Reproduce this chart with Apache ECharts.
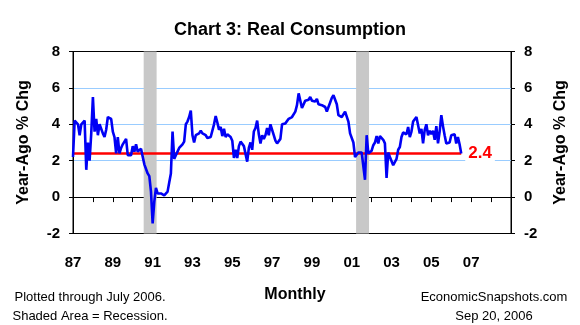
<!DOCTYPE html>
<html><head><meta charset="utf-8">
<script src="https://cdn.jsdelivr.net/npm/echarts@6/dist/echarts.min.js"></script>
<style>html,body{margin:0;padding:0;background:#fff}#c{width:580px;height:325px}</style>
</head><body><div id="c"></div>
<script>
// Year-ago % change in real consumption, monthly, Jan 1987 - Jul 2006
const v1987 = [2.2, 4.2, 4.1, 4.0, 3.4, 4.0, 4.1, 4.2, 1.5, 3.0, 2.0, 3.5];
const v1988 = [5.5, 3.6, 4.3, 3.4, 4.0, 4.0, 3.5, 3.3, 3.7, 4.4, 4.5, 4.3];
const v1989 = [3.6, 3.3, 2.4, 3.3, 2.4, 2.7, 2.9, 3.05, 3.2, 2.3, 2.2, 2.3];
const v1990 = [2.8, 2.5, 2.9, 2.5, 2.5, 2.65, 2.6, 1.8, 1.85, 1.3, 1.15, 0.3];
const v1991 = [-1.45, -0.25, 0.5, 0.2, 0.3, 0.2, 0.25, 0.1, 0.1, 0.3, 0.8, 1.3];
const v1992 = [3.6, 2.1, 2.3, 2.5, 2.7, 2.8, 2.9, 3.05, 4.0, 4.15, 4.4, 4.75];
const v1993 = [3.4, 3.0, 3.4, 3.4, 3.5, 3.65, 3.5, 3.45, 3.4, 3.25, 3.15, 3.3];
const v1994 = [3.35, 4.0, 4.45, 4.1, 3.7, 3.85, 3.35, 3.75, 3.3, 3.45, 3.55, 3.3];
const v1995 = [3.1, 2.15, 2.6, 2.15, 2.8, 3.05, 2.95, 2.8, 2.9, 1.95, 2.7, 3.0];
const v1996 = [2.6, 3.6, 3.8, 4.2, 3.45, 2.95, 3.4, 3.2, 3.4, 3.8, 3.4, 4.0];
const v1997 = [4.0, 3.4, 3.1, 2.95, 2.95, 3.2, 4.0, 4.1, 4.05, 4.15, 4.3, 4.2];
const v1998 = [4.4, 4.5, 4.7, 5.05, 5.7, 5.8, 4.9, 4.85, 5.3, 5.3, 5.35, 5.5];
const v1999 = [5.3, 5.25, 5.25, 5.4, 5.1, 5.15, 5.05, 5.1, 4.95, 4.7, 4.8, 5.2];
const v2000 = [5.45, 5.6, 5.65, 5.1, 4.5, 4.4, 4.4, 4.45, 4.7, 4.6, 4.15, 3.5];
const v2001 = [3.5, 3.0, 2.2, 2.3, 2.45, 2.5, 2.45, 2.4, 0.95, 3.4, 2.4, 2.4];
const v2002 = [2.55, 2.85, 3.0, 3.35, 2.95, 3.35, 3.25, 3.15, 2.95, 1.05, 2.45, 2.2];
const v2003 = [2.1, 1.75, 1.85, 2.1, 2.6, 2.75, 3.3, 3.55, 3.55, 3.45, 3.85, 3.3];
const v2004 = [3.6, 4.15, 4.2, 4.4, 4.5, 3.5, 3.75, 2.95, 3.7, 4.0, 3.4, 3.65];
const v2005 = [3.45, 3.65, 3.15, 3.9, 2.95, 3.6, 4.5, 3.9, 3.4, 2.95, 2.9, 3.0];
const v2006 = [3.4, 3.45, 3.45, 2.95, 3.3, 2.9, 2.4];

const years = [1987,1988,1989,1990,1991,1992,1993,1994,1995,1996,1997,1998,1999,2000,2001,2002,2003,2004,2005,2006];
const yearValues = [v1987,v1988,v1989,v1990,v1991,v1992,v1993,v1994,v1995,v1996,v1997,v1998,v1999,v2000,v2001,v2002,v2003,v2004,v2005,v2006];

// recessions (decimal years)
const recessionStart = [1990.55, 2001.22];
const recessionEnd = [1991.2, 2001.87];

const latestValue = 2.4;
const xTickLabels = ['87','89','91','93','95','97','99','01','03','05','07'];
const xMin = 1987, xMax = 2009;
const yMin = -2, yMax = 8, yStep = 2;

const data = [];
years.forEach((yr, k) => yearValues[k].forEach((v, i) => data.push([yr + i / 12, v])));
const lastT = data[data.length - 1][0];

const FONT = '"Liberation Sans", Arial, sans-serif';
const chart = echarts.init(document.getElementById('c'), null, {renderer: 'canvas'});

const yAxisCommon = {
  type: 'value', min: yMin, max: yMax, interval: yStep,
  axisLine: {show: true, lineStyle: {color: '#000', width: 1}},
  axisTick: {show: true, inside: false, length: 4, lineStyle: {color: '#000'}},
  axisLabel: {color: '#000', fontFamily: FONT, fontWeight: 'bold', fontSize: 15, margin: 13},
  name: 'Year-Ago % Chg', nameLocation: 'middle', nameRotate: 90,
  nameTextStyle: {color: '#000', fontFamily: FONT, fontWeight: 'bold', fontSize: 16}
};

chart.setOption({
  animation: false,
  backgroundColor: '#fff',
  title: {
    text: 'Chart 3: Real Consumption', left: 'center', top: 16,
    textStyle: {color: '#000', fontFamily: FONT, fontWeight: 'bold', fontSize: 18}
  },
  grid: {left: 73, right: 69, top: 51.5, bottom: 91.5, show: true, borderColor: '#000', borderWidth: 1, backgroundColor: 'transparent'},
  xAxis: {
    type: 'value', min: xMin, max: xMax, interval: 1,
    axisLine: {onZero: true, lineStyle: {color: '#000', width: 1}},
    axisTick: {show: true, inside: false, length: 5, lineStyle: {color: '#000'}},
    splitLine: {show: false},
    axisLabel: {
      color: '#000', fontFamily: FONT, fontWeight: 'bold', fontSize: 15, margin: 22,
      formatter: v => { const k = Math.round(v - xMin); return k % 2 === 0 ? (xTickLabels[k / 2] || '') : ''; }
    }
  },
  yAxis: [
    Object.assign({}, yAxisCommon, {
      position: 'left', nameGap: 41,
      splitLine: {show: true, showMinLine: false, showMaxLine: false,
        lineStyle: {color: ['rgba(0,0,0,0)', '#99ccff', '#99ccff', '#99ccff'], width: 1}}
    }),
    Object.assign({}, yAxisCommon, {position: 'right', nameGap: 42, splitLine: {show: false}})
  ],
  series: [{
    type: 'line', data: data, showSymbol: false, symbol: 'none',
    lineStyle: {color: '#0000f5', width: 2.6}, z: 5,
    markArea: {
      silent: true,
      itemStyle: {color: '#c8c8c8', opacity: 1},
      data: recessionStart.map((s, i) => [{xAxis: s}, {xAxis: recessionEnd[i]}])
    },
    markLine: {
      silent: true, symbol: 'none',
      lineStyle: {color: '#ff0000', width: 2.5, type: 'solid'},
      label: {
        show: true, position: 'end', formatter: String(latestValue), distance: 4,
        color: '#ff0000', fontFamily: FONT, fontWeight: 'bold', fontSize: 17,
        backgroundColor: '#fff', padding: [1, 3, 0, 3]
      },
      data: [[{coord: [xMin, latestValue]}, {coord: [lastT, latestValue]}]]
    }
  }],
  graphic: [
    {type: 'text', x: 295, y: 295, style: {text: 'Monthly', fill: '#000', font: 'bold 16px ' + FONT, align: 'center', verticalAlign: 'middle'}},
    {type: 'text', x: 90, y: 297, style: {text: 'Plotted through July 2006.', fill: '#000', font: '13px ' + FONT, align: 'center', verticalAlign: 'middle'}},
    {type: 'text', x: 90, y: 316, style: {text: 'Shaded Area = Recession.', fill: '#000', font: '13px ' + FONT, align: 'center', verticalAlign: 'middle'}},
    {type: 'text', x: 494, y: 297, style: {text: 'EconomicSnapshots.com', fill: '#000', font: '13px ' + FONT, align: 'center', verticalAlign: 'middle'}},
    {type: 'text', x: 494, y: 316, style: {text: 'Sep 20, 2006', fill: '#000', font: '13px ' + FONT, align: 'center', verticalAlign: 'middle'}}
  ]
});
</script></body></html>
